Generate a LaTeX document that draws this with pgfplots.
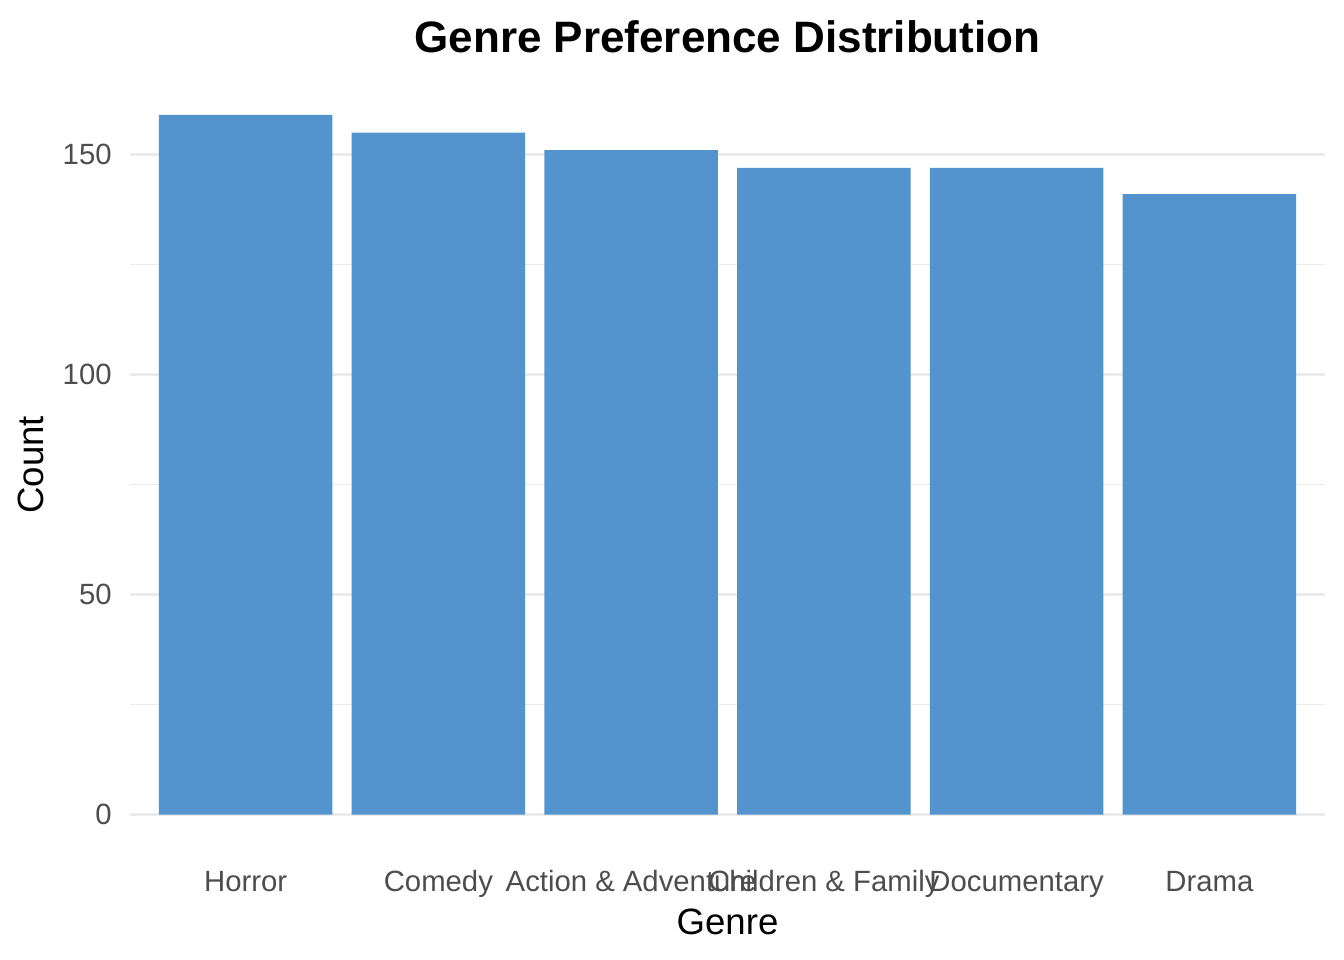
\documentclass[border=0pt]{standalone}
\usepackage{pgfplots}
\pgfplotsset{compat=1.18}
\usepackage{fontspec}
\setmainfont{Liberation Sans}
\definecolor{barblue}{HTML}{5394CF}
\definecolor{gridgrey}{HTML}{EBEBEB}
\definecolor{ticktext}{HTML}{4D4D4D}
\begin{document}
\begin{tikzpicture}
\path[fill=white] (0,0) rectangle (672bp,480bp);
\useasboundingbox (0,0) rectangle (672bp,480bp);
\begin{axis}[
  at={(65bp,55.25bp)}, anchor=south west,
  scale only axis, width=597.5bp, height=384.75bp,
  xmin=0.4, xmax=6.6, ymin=-7.95, ymax=166.95,
  ybar, bar width=0.9,
  xtick={1,2,3,4,5,6},
  xticklabels={Horror,Comedy,Action \& Adventure,Children \& Family,Documentary,Drama},
  ytick={0,50,100,150},
  minor ytick={25,75,125},
  ymajorgrids, yminorgrids,
  major grid style={draw=gridgrey, line width=1.3bp},
  minor grid style={draw=gridgrey, line width=0.65bp},
  axis line style={draw=none},
  tick style={draw=none},
  /pgf/number format/assume math mode=true,
  ticklabel style={font=\fontsize{14.65bp}{17bp}\selectfont, text=ticktext},
  yticklabel style={anchor=east, inner sep=0pt, xshift=-9bp},
  xticklabel style={anchor=base, inner sep=0pt, yshift=-16.75bp},
  xlabel={Genre}, ylabel={Count},
  label style={font=\fontsize{18.3bp}{21bp}\selectfont, text=black},
  xlabel style={at={(axis description cs:0.5,-0.1111)}, anchor=base, inner sep=0pt},
  ylabel style={at={(axis description cs:-0.0728,0.5)}, anchor=base, inner sep=0pt},
  title={Genre Preference Distribution},
  title style={at={(axis description cs:0.5,1.0208)}, anchor=base, inner sep=0pt, font=\fontsize{22bp}{26bp}\selectfont\bfseries},
]
\addplot[fill=barblue, draw=none] coordinates {(1,159) (2,155) (3,151) (4,147) (5,147) (6,141)};
\end{axis}
\end{tikzpicture}
\end{document}
